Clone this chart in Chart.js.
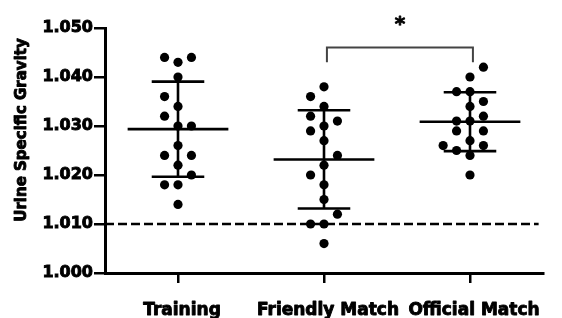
<!DOCTYPE html>
<html><head><meta charset="utf-8">
<script src="https://cdn.jsdelivr.net/npm/chart.js@4.4.1/dist/chart.umd.min.js"></script>
<style>html,body{margin:0;padding:0;background:#fff;}#wrap{width:562px;height:318px;}</style>
</head><body><div id="wrap"><canvas id="c" width="562" height="318"></canvas></div>
<script>
const categories = ['Training', 'Friendly Match', 'Official Match'];
const yTickValues = [1.000, 1.010, 1.020, 1.030, 1.040, 1.050];
const yAxisTitle = 'Urine Specific Gravity';
const trainingValues = [1.044,1.044,1.043,1.040,1.036,1.034,1.032,1.030,1.030,1.026,1.024,1.024,1.022,1.020,1.018,1.018,1.014];
const trainingColumns = [-1,1,0,0,-1,0,-1,0,1,0,-1,1,0,1,-1,0,0];
const friendlyValues = [1.038,1.036,1.034,1.032,1.031,1.030,1.029,1.027,1.024,1.022,1.020,1.018,1.015,1.012,1.010,1.010,1.006];
const friendlyColumns = [0,-1,0,-1,1,0,-1,0,1,0,-1,0,0,1,-1,0,0];
const officialValues = [1.042,1.040,1.037,1.037,1.035,1.034,1.032,1.031,1.031,1.029,1.029,1.027,1.026,1.026,1.025,1.024,1.020];
const officialColumns = [1,0,-1,0,1,0,1,-1,0,-1,1,0,-2,1,-1,0,0];
const referenceLevel = 1.010;
const significancePair = [1, 2];
const significanceHeights = [1.043, 1.046];
const significanceLabel = '*';

const groups = [
  {values: trainingValues, columns: trainingColumns},
  {values: friendlyValues, columns: friendlyColumns},
  {values: officialValues, columns: officialColumns}
];
const COL_STEP = 0.092, MEAN_HALF = 0.345, CAP_HALF = 0.18, BRACKET_SHIFT = 0.02;
const FONT = '"DejaVu Sans", "Liberation Sans", Arial, sans-serif';

function mean(a){ return a.reduce((s,v)=>s+v,0)/a.length; }
function sd(a){ const m=mean(a); return Math.sqrt(a.reduce((s,v)=>s+(v-m)*(v-m),0)/(a.length-1)); }

const dotData = [];
groups.forEach((g,i)=>g.values.forEach((v,k)=>dotData.push({x: i + g.columns[k]*COL_STEP, y: v})));

const barData = [];
groups.forEach((g,i)=>{
  const m = mean(g.values), s = sd(g.values);
  barData.push({x:i-MEAN_HALF,y:m},{x:i+MEAN_HALF,y:m},{x:i,y:null});
  barData.push({x:i,y:m-s},{x:i,y:m+s},{x:i,y:null});
  barData.push({x:i-CAP_HALF,y:m+s},{x:i+CAP_HALF,y:m+s},{x:i,y:null});
  barData.push({x:i-CAP_HALF,y:m-s},{x:i+CAP_HALF,y:m-s},{x:i,y:null});
});

const bx0 = significancePair[0] + BRACKET_SHIFT, bx1 = significancePair[1] + BRACKET_SHIFT;
const bracketData = [
  {x:bx0,y:significanceHeights[0]},{x:bx0,y:significanceHeights[1]},
  {x:bx1,y:significanceHeights[1]},{x:bx1,y:significanceHeights[0]}
];

function heavyText(ctx, t, x, y){
  ctx.lineWidth = 0.9; ctx.strokeStyle = '#000'; ctx.lineJoin = 'round';
  ctx.strokeText(t, x, y); ctx.fillText(t, x, y);
}

const textPlugin = {
  id: 'texts',
  afterDraw(chart){
    const ctx = chart.ctx, xs = chart.scales.x;
    ctx.save();
    ctx.fillStyle = '#000';
    ctx.font = 'bold 15px ' + FONT;
    ctx.translate(22, 130);
    ctx.rotate(-Math.PI/2);
    ctx.textAlign = 'center';
    ctx.textBaseline = 'middle';
    heavyText(ctx, yAxisTitle, 0, 0);
    ctx.restore();
    ctx.save();
    ctx.fillStyle = '#000';
    ctx.font = 'bold 17px ' + FONT;
    ctx.textAlign = 'center';
    ctx.textBaseline = 'alphabetic';
    categories.forEach((c,i)=>{
      const w = ctx.measureText(c).width;
      let cx = xs.getPixelForValue(i) + 4;
      cx = Math.min(cx, chart.width - 4 - w/2);
      heavyText(ctx, c, cx, 315);
    });
    ctx.font = 'bold 20px ' + FONT;
    const sx = (xs.getPixelForValue(bx0) + xs.getPixelForValue(bx1))/2;
    heavyText(ctx, significanceLabel, sx, 30);
    ctx.restore();
  }
};

new Chart(document.getElementById('c'), {
  type: 'scatter',
  data: {
    datasets: [
      {data: dotData, pointRadius: 4.6, pointHoverRadius: 4.6, pointBackgroundColor: '#000', pointBorderWidth: 0, showLine: false, order: 0},
      {data: barData, showLine: true, spanGaps: false, pointRadius: 0, borderColor: '#000', borderWidth: 2.6, borderCapStyle: 'butt', order: 1},
      {data: [{x:-0.5,y:referenceLevel},{x:2.47,y:referenceLevel}], showLine: true, pointRadius: 0, borderColor: '#000', borderWidth: 2.6, borderDash: [9,4], order: 2},
      {data: bracketData, showLine: true, pointRadius: 0, borderColor: '#444', borderWidth: 2, order: 3}
    ]
  },
  options: {
    responsive: false,
    animation: false,
    events: [],
    layout: {padding: {top: 28, right: 19, left: 0, bottom: 0}},
    plugins: {legend: {display: false}, tooltip: {enabled: false}},
    scales: {
      x: {
        type: 'linear', min: -0.5, max: 2.5,
        afterBuildTicks(s){ s.ticks = categories.map((c,i)=>({value:i})); },
        afterFit(s){ s.height = 45; },
        ticks: {display: false},
        grid: {drawOnChartArea: false, color: '#000', lineWidth: 2.5, tickLength: 10},
        border: {color: '#000', width: 3}
      },
      y: {
        type: 'linear', min: 1.0, max: 1.05,
        afterBuildTicks(s){ s.ticks = yTickValues.map(v=>({value:v})); },
        afterFit(s){ s.width = 105; },
        ticks: {color: '#000', padding: 1, textStrokeColor: '#000', textStrokeWidth: 0.9, font: {family: FONT, size: 16, weight: 'bold'}, callback: v => Number(v).toFixed(3)},
        grid: {drawOnChartArea: false, color: '#000', lineWidth: 2.5, tickLength: 11},
        border: {color: '#000', width: 3}
      }
    }
  },
  plugins: [textPlugin]
});
</script></body></html>
